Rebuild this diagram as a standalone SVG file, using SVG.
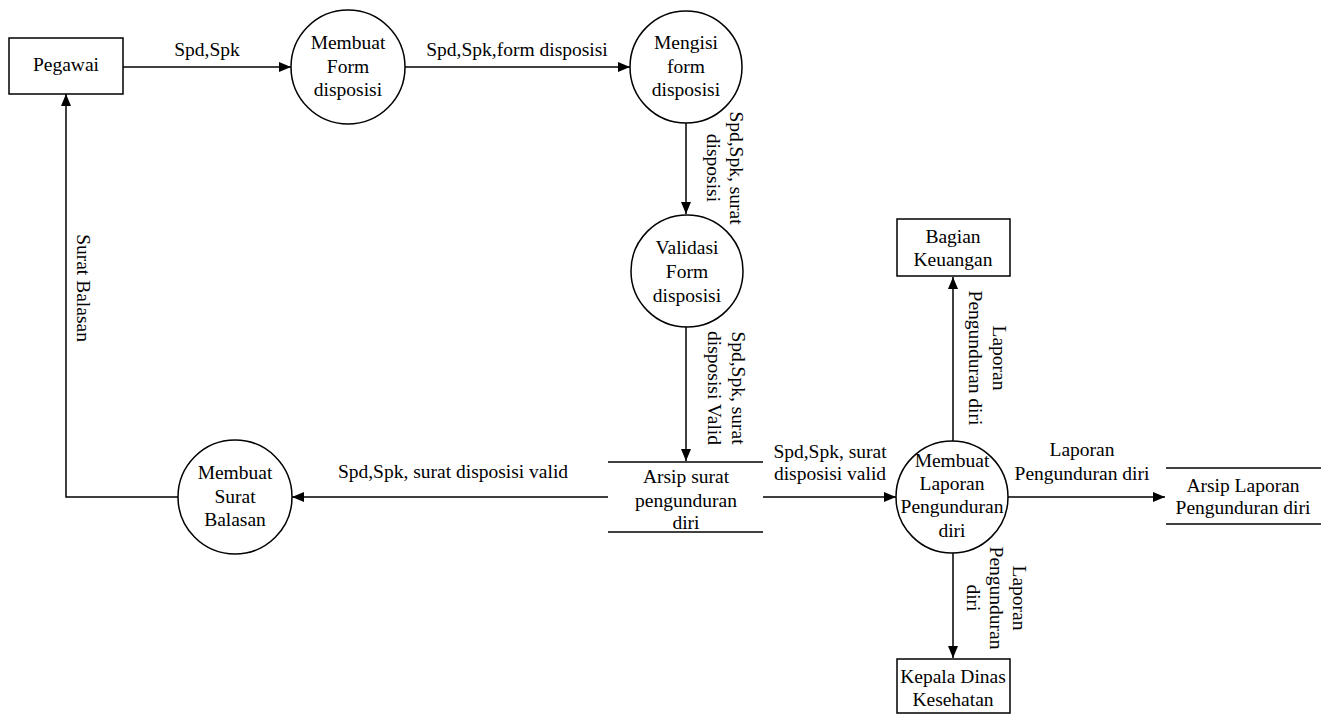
<svg xmlns="http://www.w3.org/2000/svg" width="1332" height="716" viewBox="0 0 1332 716">
  <style>
    text { font-family: "Liberation Serif", "Times New Roman", serif; font-size: 19.5px; fill: #000; text-anchor: middle; }
    .shape { fill: #fff; stroke: #000; stroke-width: 1.5; }
    .store { stroke: #000; stroke-width: 1.5; fill: none; }
    .flow { fill: none; stroke: #000; stroke-width: 1.5; marker-end: url(#arrow); }
  </style>
  <defs>
    <marker id="arrow" markerUnits="userSpaceOnUse" markerWidth="13" markerHeight="11" refX="12" refY="5" orient="auto">
      <path d="M0,0 L12,5 L0,10 z" fill="#000"/>
    </marker>
  </defs>
  <rect width="1332" height="716" fill="#fff"/>

  <!-- data flows -->
  <g id="connectors">
    <path class="flow" d="M123,67 H291"/>
    <path class="flow" d="M405,67 H630"/>
    <path class="flow" d="M686,123 V214"/>
    <path class="flow" d="M686,327 V461"/>
    <path class="flow" d="M608,497 H292"/>
    <path class="flow" d="M178,497 H66 V94"/>
    <path class="flow" d="M763,497 H896"/>
    <path class="flow" d="M953,441 V277"/>
    <path class="flow" d="M1008,497 H1165"/>
    <path class="flow" d="M953,553 V658"/>

    <text x="207" y="56">Spd,Spk</text>
    <text x="517" y="56">Spd,Spk,form disposisi</text>
    <g transform="translate(735,168) rotate(90)">
      <text x="0" y="5">Spd,Spk, surat</text>
      <text x="0" y="28">disposisi</text>
    </g>
    <g transform="translate(737,388) rotate(90)">
      <text x="0" y="5">Spd,Spk, surat</text>
      <text x="0" y="29">disposisi Valid</text>
    </g>
    <text x="453" y="478">Spd,Spk, surat disposisi valid</text>
    <g transform="translate(83,288) rotate(90)">
      <text x="0" y="6">Surat Balasan</text>
    </g>
    <text x="830" y="458">Spd,Spk, surat</text>
    <text x="830" y="480">disposisi valid</text>
    <g transform="translate(998,358) rotate(90)">
      <text x="0" y="5">Laporan</text>
      <text x="0" y="29">Pengunduran diri</text>
    </g>
    <text x="1082" y="456">Laporan</text>
    <text x="1082" y="480">Pengunduran diri</text>
    <g transform="translate(1018,598) rotate(90)">
      <text x="0" y="5">Laporan</text>
      <text x="0" y="28">Pengunduran</text>
      <text x="0" y="51">diri</text>
    </g>
  </g>

  <g id="pegawai">
    <rect class="shape" x="9" y="38" width="114" height="56"/>
    <text x="66" y="71">Pegawai</text>
  </g>

  <g id="membuat-form">
    <circle class="shape" cx="348" cy="67" r="57"/>
    <text x="348" y="49">Membuat</text>
    <text x="348" y="73">Form</text>
    <text x="348" y="96">disposisi</text>
  </g>

  <g id="mengisi-form">
    <circle class="shape" cx="686" cy="67" r="56"/>
    <text x="686" y="49">Mengisi</text>
    <text x="686" y="73">form</text>
    <text x="686" y="96">disposisi</text>
  </g>

  <g id="validasi-form">
    <circle class="shape" cx="687" cy="271" r="56"/>
    <text x="687" y="254">Validasi</text>
    <text x="687" y="278">Form</text>
    <text x="687" y="302">disposisi</text>
  </g>

  <g id="arsip-surat">
    <line class="store" x1="608" y1="462" x2="763" y2="462"/>
    <line class="store" x1="608" y1="532" x2="763" y2="532"/>
    <text x="686" y="483">Arsip surat</text>
    <text x="686" y="507">pengunduran</text>
    <text x="686" y="529">diri</text>
  </g>

  <g id="membuat-surat-balasan">
    <circle class="shape" cx="235" cy="497" r="57"/>
    <text x="235" y="479">Membuat</text>
    <text x="235" y="503">Surat</text>
    <text x="235" y="526">Balasan</text>
  </g>

  <g id="membuat-laporan">
    <circle class="shape" cx="952" cy="497" r="56"/>
    <text x="952" y="467">Membuat</text>
    <text x="952" y="490">Laporan</text>
    <text x="952" y="513">Pengunduran</text>
    <text x="952" y="537">diri</text>
  </g>

  <g id="bagian-keuangan">
    <rect class="shape" x="897" y="219" width="113" height="57"/>
    <text x="953" y="243">Bagian</text>
    <text x="953" y="266">Keuangan</text>
  </g>

  <g id="arsip-laporan">
    <line class="store" x1="1166" y1="468" x2="1321" y2="468"/>
    <line class="store" x1="1166" y1="524" x2="1321" y2="524"/>
    <text x="1243" y="492">Arsip Laporan</text>
    <text x="1243" y="514">Pengunduran diri</text>
  </g>

  <g id="kepala-dinas">
    <rect class="shape" x="897" y="659" width="113" height="54"/>
    <text x="953" y="683">Kepala Dinas</text>
    <text x="953" y="706">Kesehatan</text>
  </g>
</svg>
